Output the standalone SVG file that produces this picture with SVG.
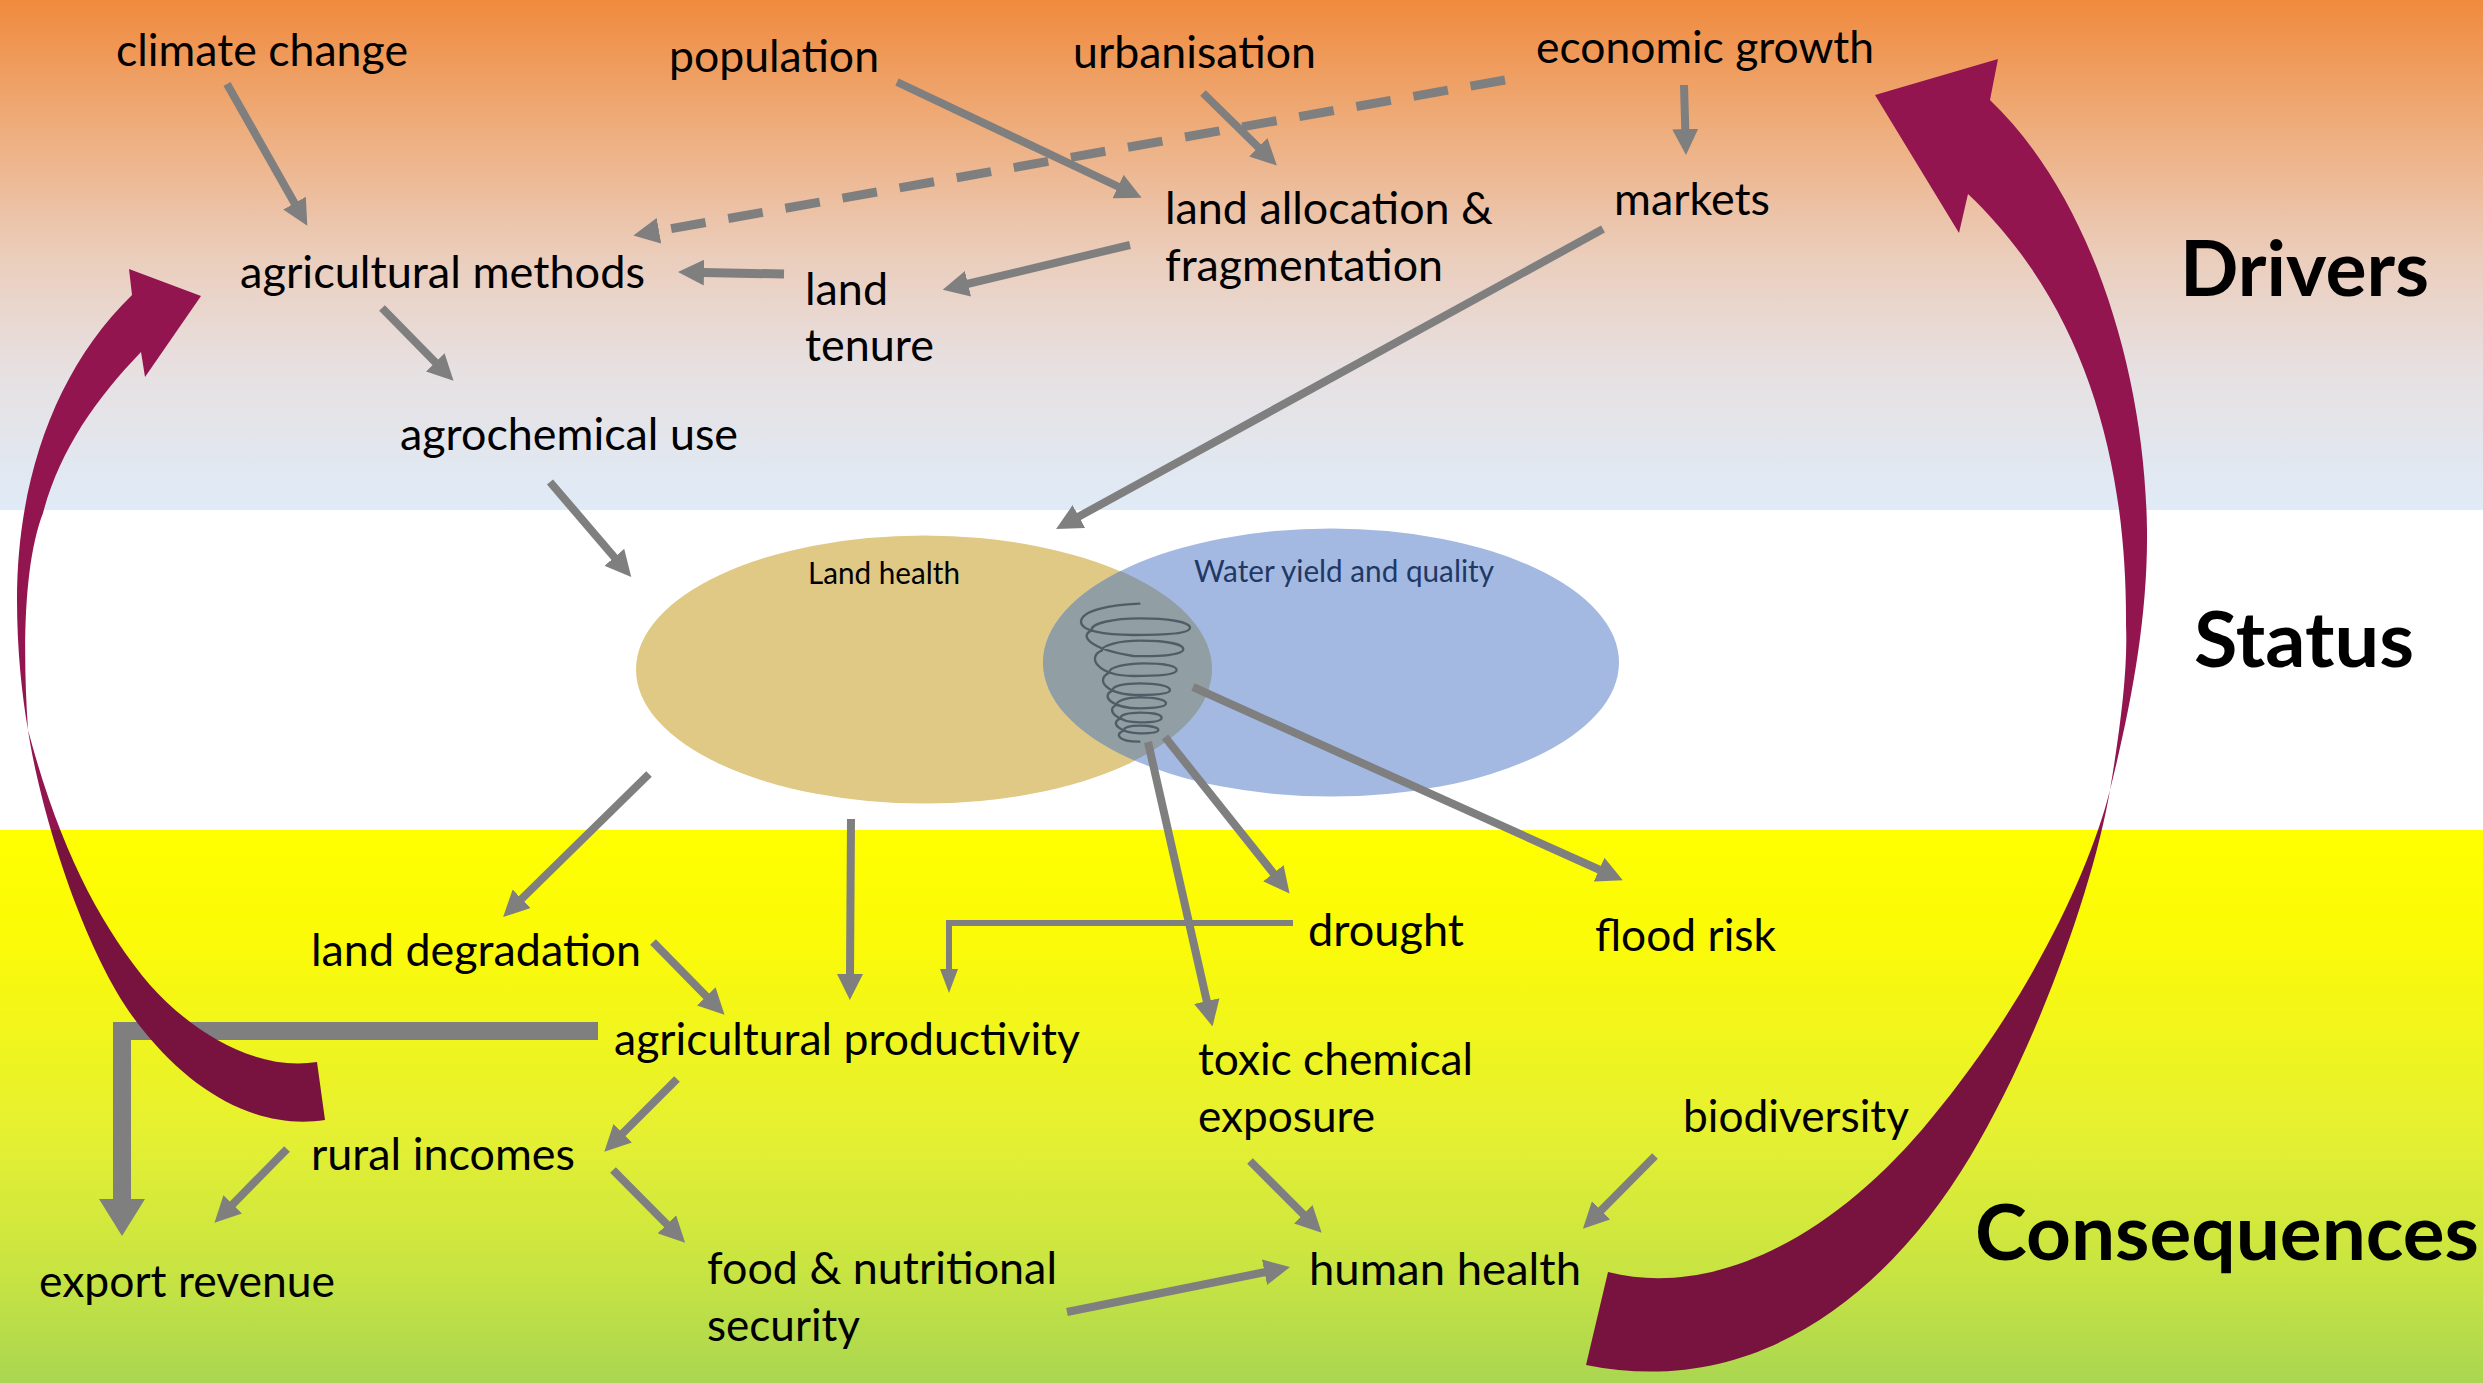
<svg xmlns="http://www.w3.org/2000/svg" width="2483" height="1383" viewBox="0 0 2483 1383">
<style>
.t{font-family:Lato,"Liberation Sans",sans-serif;font-size:45px;fill:#000}
.s{font-family:Lato,"Liberation Sans",sans-serif;font-size:30px;fill:#000}
.h{font-family:Lato,"Liberation Sans",sans-serif;font-size:76px;font-weight:700;fill:#000}
.c{fill:none;stroke:#7f7f7f;stroke-width:8;marker-end:url(#head)}
</style>
<defs>
<linearGradient id="top" x1="0" y1="0" x2="0" y2="1"><stop offset="0" stop-color="#f08a3d"/><stop offset=".25" stop-color="#eead7c"/><stop offset=".5" stop-color="#ebcdbb"/><stop offset=".72" stop-color="#e7e0e1"/><stop offset="1" stop-color="#dfebf7"/></linearGradient>
<linearGradient id="bot" x1="0" y1="0" x2="0" y2="1"><stop offset="0" stop-color="#ffff00"/><stop offset=".2" stop-color="#fbfa08"/><stop offset=".55" stop-color="#e5f032"/><stop offset=".8" stop-color="#c8e442"/><stop offset="1" stop-color="#a9d651"/></linearGradient>
<linearGradient id="pur" gradientUnits="userSpaceOnUse" x1="0" y1="0" x2="0" y2="1383"><stop offset=".6" stop-color="#931550"/><stop offset=".6" stop-color="#78133f"/></linearGradient>
<clipPath id="land"><ellipse cx="924" cy="669" rx="288" ry="134"/></clipPath>
<marker id="head" markerUnits="userSpaceOnUse" markerWidth="26" markerHeight="26" refX="1" refY="13" orient="auto"><path d="M0,0L26,13L0,26z" fill="#7f7f7f"/></marker>
<marker id="headS" markerUnits="userSpaceOnUse" markerWidth="24" markerHeight="18" refX="1" refY="9" orient="auto"><path d="M0,0L24,9L0,18z" fill="#7f7f7f"/></marker>
<marker id="headL" markerUnits="userSpaceOnUse" markerWidth="37" markerHeight="46" refX="1" refY="23" orient="auto"><path d="M0,0L37,23L0,46z" fill="#7f7f7f"/></marker>
</defs>
<rect id="band-drivers" x="0" y="0" width="2483" height="510" fill="url(#top)"/>
<rect id="band-status" x="0" y="510" width="2483" height="320" fill="#fff"/>
<rect id="band-consequences" x="0" y="830" width="2483" height="553" fill="url(#bot)"/>

<g id="venn">
<ellipse cx="924" cy="669.5" rx="288" ry="134" fill="#dfc985"/>
<ellipse cx="1331" cy="662.5" rx="288" ry="134" fill="#a4b9e1"/>
<ellipse cx="1331" cy="662.5" rx="288" ry="134" fill="#919ea3" clip-path="url(#land)"/>
<path transform="translate(1040 590) scale(.3333)" fill="none" stroke="#4f5e66" stroke-width="7" stroke-linecap="round" d="M298,41C210,44 125,62 123,95C122,122 190,135 280,135C380,135 450,130 450,113C450,95 380,85 300,85C220,85 150,100 155,122C120,135 140,175 280,198C360,200 430,195 430,178C430,160 370,152 300,152C240,152 185,165 185,182C140,200 170,258 280,258C350,258 410,255 410,240C410,225 360,220 310,220C260,220 205,232 208,248C165,268 195,315 300,315C350,315 390,312 390,300C390,288 350,280 300,280C255,280 215,288 218,302C180,318 215,355 300,355C340,355 378,352 378,340C378,328 340,322 300,322C260,322 228,332 230,345C195,358 230,397 300,397C335,397 365,394 365,383C365,373 335,368 300,368C265,368 240,375 242,385C205,400 245,430 300,430C330,430 355,428 355,420C355,412 330,407 300,407C270,407 250,412 252,422C225,430 230,455 298,455"/>
</g>

<g id="connectors">
<line class="c" x1="227" y1="84" x2="295" y2="204"/>
<line class="c" x1="1505" y1="80" x2="658" y2="231" stroke-dasharray="35 23" style="stroke-width:9"/>
<line class="c" x1="897" y1="82" x2="1119" y2="187"/>
<line class="c" x1="1203" y1="93" x2="1259" y2="148"/>
<line class="c" x1="1684" y1="85" x2="1685.3" y2="130"/>
<line class="c" x1="1603" y1="229" x2="1078" y2="517"/>
<line class="c" x1="1130" y1="245" x2="967" y2="284"/>
<line class="c" x1="784" y1="274" x2="703" y2="272.5" style="stroke-width:9"/>
<line class="c" x1="382" y1="308" x2="436" y2="363"/>
<line class="c" x1="550" y1="482" x2="615" y2="558"/>
<line class="c" x1="649" y1="774" x2="521" y2="899.5"/>
<line class="c" x1="851" y1="819" x2="850" y2="975"/>
<line class="c" x1="653" y1="942" x2="707" y2="997"/>
<line class="c" x1="677" y1="1079" x2="622" y2="1134"/>
<line class="c" x1="287" y1="1149" x2="232" y2="1205"/>
<line class="c" x1="613" y1="1170" x2="667.5" y2="1225"/>
<path d="M598,1031H122V1200" fill="none" stroke="#7f7f7f" stroke-width="18" marker-end="url(#headL)"/>
<line class="c" x1="1067" y1="1312" x2="1265.5" y2="1272"/>
<line class="c" x1="1655" y1="1156" x2="1600.5" y2="1211"/>
<line class="c" x1="1250" y1="1161" x2="1304" y2="1215"/>
<path d="M1293,923H949V970" fill="none" stroke="#7f7f7f" stroke-width="6" marker-end="url(#headS)"/>
<line class="c" x1="1165" y1="737" x2="1274" y2="874"/>
<line class="c" x1="1148" y1="742" x2="1207" y2="1002"/>
<line class="c" x1="1193" y1="687" x2="1600" y2="870"/>
</g>

<g id="feedback">
<path id="feedback-right" fill="url(#pur)" d="M1998,59L1990,100C2090,195 2145,370 2147,530C2148,620 2130,710 2110,790C2095,880 2040,1040 1970,1157C1890,1290 1760,1400 1586,1365L1608,1272C1720,1300 1840,1230 1930,1120C2030,1000 2090,870 2110,790C2120,730 2128,670 2126,625C2127,470 2090,310 1968,194L1959,233L1875,95Z"/>
<path id="feedback-left" fill="url(#pur)" d="M129,269L132,295C55,370 17,480 17,600C17,650 22,695 28,730C40,810 85,960 143,1030C195,1095 260,1130 325,1120L317,1062C255,1072 190,1030 150,985C100,925 60,850 28,730C22,640 25,560 43,513C60,450 95,400 141,352L145,377L201,296Z"/>
</g>

<g id="n-climate"><text class="t" x="116" y="66" textLength="292" lengthAdjust="spacingAndGlyphs">climate change</text></g>
<g id="n-population"><text class="t" x="669" y="72" textLength="210" lengthAdjust="spacingAndGlyphs">population</text></g>
<g id="n-urbanisation"><text class="t" x="1073" y="68" textLength="243" lengthAdjust="spacingAndGlyphs">urbanisation</text></g>
<g id="n-economic"><text class="t" x="1536" y="63" textLength="338" lengthAdjust="spacingAndGlyphs">economic growth</text></g>
<g id="n-allocation"><text class="t" x="1165" y="224" textLength="328" lengthAdjust="spacingAndGlyphs">land allocation &amp;</text><text class="t" x="1165" y="281" textLength="278" lengthAdjust="spacingAndGlyphs">fragmentation</text></g>
<g id="n-markets"><text class="t" x="1614" y="215" textLength="156" lengthAdjust="spacingAndGlyphs">markets</text></g>
<g id="n-methods"><text class="t" x="240" y="288" textLength="405" lengthAdjust="spacingAndGlyphs">agricultural methods</text></g>
<g id="n-tenure"><text class="t" x="805" y="305" textLength="83" lengthAdjust="spacingAndGlyphs">land</text><text class="t" x="805" y="361" textLength="129" lengthAdjust="spacingAndGlyphs">tenure</text></g>
<g id="n-agrochem"><text class="t" x="400" y="450" textLength="338" lengthAdjust="spacingAndGlyphs">agrochemical use</text></g>
<g id="n-land-health"><text class="s" x="808" y="584" textLength="152" lengthAdjust="spacingAndGlyphs">Land health</text></g>
<g id="n-water"><text class="s" x="1194" y="582" textLength="300" lengthAdjust="spacingAndGlyphs" style="fill:#1f3864">Water yield and quality</text></g>
<g id="n-degradation"><text class="t" x="311" y="966" textLength="330" lengthAdjust="spacingAndGlyphs">land degradation</text></g>
<g id="n-drought"><text class="t" x="1308" y="946" textLength="156" lengthAdjust="spacingAndGlyphs">drought</text></g>
<g id="n-flood"><text class="t" x="1595" y="951" textLength="181" lengthAdjust="spacingAndGlyphs">flood risk</text></g>
<g id="n-productivity"><text class="t" x="614" y="1055" textLength="466" lengthAdjust="spacingAndGlyphs">agricultural productivity</text></g>
<g id="n-toxic"><text class="t" x="1198" y="1075" textLength="275" lengthAdjust="spacingAndGlyphs">toxic chemical</text><text class="t" x="1198" y="1132" textLength="177" lengthAdjust="spacingAndGlyphs">exposure</text></g>
<g id="n-biodiversity"><text class="t" x="1683" y="1132" textLength="226" lengthAdjust="spacingAndGlyphs">biodiversity</text></g>
<g id="n-rural"><text class="t" x="311" y="1170" textLength="264" lengthAdjust="spacingAndGlyphs">rural incomes</text></g>
<g id="n-export"><text class="t" x="39" y="1297" textLength="296" lengthAdjust="spacingAndGlyphs">export revenue</text></g>
<g id="n-food"><text class="t" x="707" y="1284" textLength="350" lengthAdjust="spacingAndGlyphs">food &amp; nutritional</text><text class="t" x="707" y="1341" textLength="153" lengthAdjust="spacingAndGlyphs">security</text></g>
<g id="n-human"><text class="t" x="1309" y="1285" textLength="272" lengthAdjust="spacingAndGlyphs">human health</text></g>
<g id="h-drivers"><text class="h" x="2180" y="296" textLength="249" lengthAdjust="spacingAndGlyphs">Drivers</text></g>
<g id="h-status"><text class="h" x="2194" y="667" textLength="220" lengthAdjust="spacingAndGlyphs">Status</text></g>
<g id="h-consequences"><text class="h" x="1975" y="1260" textLength="504" lengthAdjust="spacingAndGlyphs">Consequences</text></g>
</svg>
